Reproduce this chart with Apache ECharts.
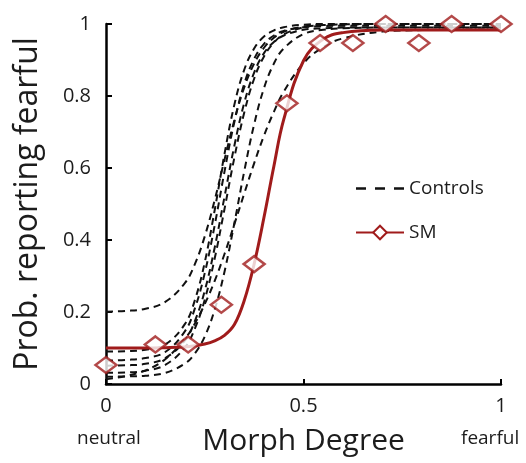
<!DOCTYPE html>
<html>
<head>
<meta charset="utf-8">
<script src="https://cdn.jsdelivr.net/npm/echarts@6/dist/echarts.min.js"></script>
<style>
html,body{margin:0;padding:0;background:#fff;}
#chart{width:526px;height:463px;}
</style>
</head>
<body>
<div id="chart"></div>
<script>
// Morph degree sample positions for fitted curves
const curveX = [0, 0.05, 0.1, 0.15, 0.2, 0.225, 0.25, 0.275, 0.3, 0.325, 0.35, 0.375, 0.4, 0.425, 0.45, 0.5, 0.55, 0.6, 0.7, 0.8, 0.9, 1];
// Control subjects' fitted curves
const controlA = [0.201,0.203,0.209,0.228,0.281,0.333,0.410,0.510,0.623,0.733,0.824,0.890,0.934,0.962,0.978,0.993,0.998,0.999,1,1,1,1];
const controlB = [0.090,0.091,0.095,0.110,0.167,0.233,0.338,0.482,0.639,0.776,0.873,0.932,0.965,0.982,0.991,0.998,1,1,1,1,1,1];
const controlC = [0.065,0.067,0.072,0.089,0.147,0.210,0.308,0.440,0.590,0.728,0.834,0.903,0.945,0.968,0.981,0.991,0.994,0.995,0.995,0.995,0.995,0.995];
const controlD = [0.051,0.052,0.056,0.072,0.121,0.175,0.259,0.378,0.520,0.662,0.781,0.865,0.919,0.950,0.968,0.984,0.988,0.99,0.99,0.99,0.99,0.99];
const controlE = [0.031,0.032,0.037,0.053,0.102,0.154,0.234,0.348,0.486,0.629,0.754,0.848,0.910,0.948,0.971,0.991,0.997,0.999,1,1,1,1];
const controlF = [0.020,0.021,0.023,0.031,0.057,0.085,0.132,0.206,0.312,0.447,0.591,0.721,0.822,0.890,0.932,0.972,0.984,0.988,0.99,0.99,0.99,0.99];
const controlG = [0.013,0.022,0.038,0.069,0.126,0.168,0.222,0.286,0.361,0.444,0.529,0.613,0.690,0.756,0.812,0.891,0.936,0.960,0.979,0.983,0.985,0.985];
// SM fitted curve
const smCurve = [0.100,0.100,0.100,0.101,0.103,0.106,0.111,0.120,0.135,0.165,0.232,0.333,0.463,0.605,0.735,0.898,0.958,0.976,0.983,0.983,0.983,0.983];
// SM observed points
const smX = [0, 0.125, 0.208, 0.292, 0.375, 0.458, 0.542, 0.625, 0.708, 0.792, 0.875, 1];
const smY = [0.053, 0.11, 0.11, 0.22, 0.333, 0.78, 0.947, 0.947, 1.0, 0.947, 1.0, 1.0];
// Tick settings
const yTicks = [0, 0.2, 0.4, 0.6, 0.8, 1];
const xTicks = [0, 0.5, 1];

const FONT = '"Open Sans", "Noto Sans", sans-serif';
const RED = '#a01b1b';
const TXT = '#1c1c1c';

const zip = (xs, ys) => xs.map((x, i) => [x, ys[i]]);
const controls = [controlA, controlB, controlC, controlD, controlE, controlF, controlG];

const series = controls.map(c => ({
  name: 'Controls',
  type: 'line',
  data: zip(curveX, c),
  smooth: 0.4,
  showSymbol: false,
  symbol: 'none',
  clip: false,
  silent: true,
  lineStyle: { color: '#111', width: 2, type: [7, 5] },
  itemStyle: { color: '#111' },
  z: 2
}));
series.push({
  name: 'SM',
  type: 'line',
  data: zip(curveX, smCurve),
  smooth: 0.4,
  showSymbol: false,
  symbol: 'emptyDiamond',
  clip: false,
  lineStyle: { color: RED, width: 3 },
  itemStyle: { color: RED, borderWidth: 2.5 },
  z: 3
});
series.push({
  name: 'SM points',
  type: 'scatter',
  data: zip(smX, smY),
  symbol: 'diamond',
  symbolSize: [21, 16],
  clip: false,
  itemStyle: { color: '#fff', borderColor: RED, borderWidth: 2.5 },
  z: 4
});

const chart = echarts.init(document.getElementById('chart'), null, { renderer: 'canvas' });
chart.setOption({
  animation: false,
  backgroundColor: '#fff',
  textStyle: { fontFamily: FONT },
  grid: { left: 106, right: 25, top: 24, bottom: 79, containLabel: false },
  xAxis: {
    type: 'value', min: xTicks[0], max: xTicks[xTicks.length - 1], interval: 0.5,
    name: 'Morph Degree', nameLocation: 'middle', nameGap: 42,
    nameTextStyle: { fontFamily: FONT, fontSize: 30, color: TXT },
    axisLine: { show: true, lineStyle: { color: '#000', width: 2.5 } },
    axisTick: { show: true, inside: true, length: 5, lineStyle: { color: '#000', width: 2 } },
    axisLabel: { fontFamily: FONT, fontSize: 20, color: TXT, margin: 12 },
    splitLine: { show: false }
  },
  yAxis: {
    type: 'value', min: yTicks[0], max: yTicks[yTicks.length - 1], interval: 0.2,
    name: 'Prob. reporting fearful', nameLocation: 'middle', nameGap: 62,
    nameTextStyle: { fontFamily: FONT, fontSize: 32, color: TXT },
    axisLine: { show: true, lineStyle: { color: '#000', width: 2.5 } },
    axisTick: { show: true, inside: true, length: 6, lineStyle: { color: '#000', width: 2 } },
    axisLabel: { fontFamily: FONT, fontSize: 20, color: TXT, margin: 15 },
    splitLine: { show: false }
  },
  legend: {
    data: [
      { name: 'Controls', icon: 'path://M0,0h10v2.5h-10z M19,0h10v2.5h-10z M38,0h10v2.5h-10z', itemStyle: { color: '#111' } },
      { name: 'SM' }
    ],
    orient: 'vertical',
    left: 350, top: 174,
    itemWidth: 48, itemHeight: 17, itemGap: 25,
    textStyle: { fontFamily: FONT, fontSize: 19, color: TXT, padding: [0, 0, 0, 0] }
  },
  graphic: [
    { type: 'text', left: 77, top: 429, style: { text: 'neutral', font: '19px ' + FONT, fill: TXT } },
    { type: 'text', left: 461, top: 429, style: { text: 'fearful', font: '19px ' + FONT, fill: TXT } }
  ],
  series: series
});
</script>
</body>
</html>
